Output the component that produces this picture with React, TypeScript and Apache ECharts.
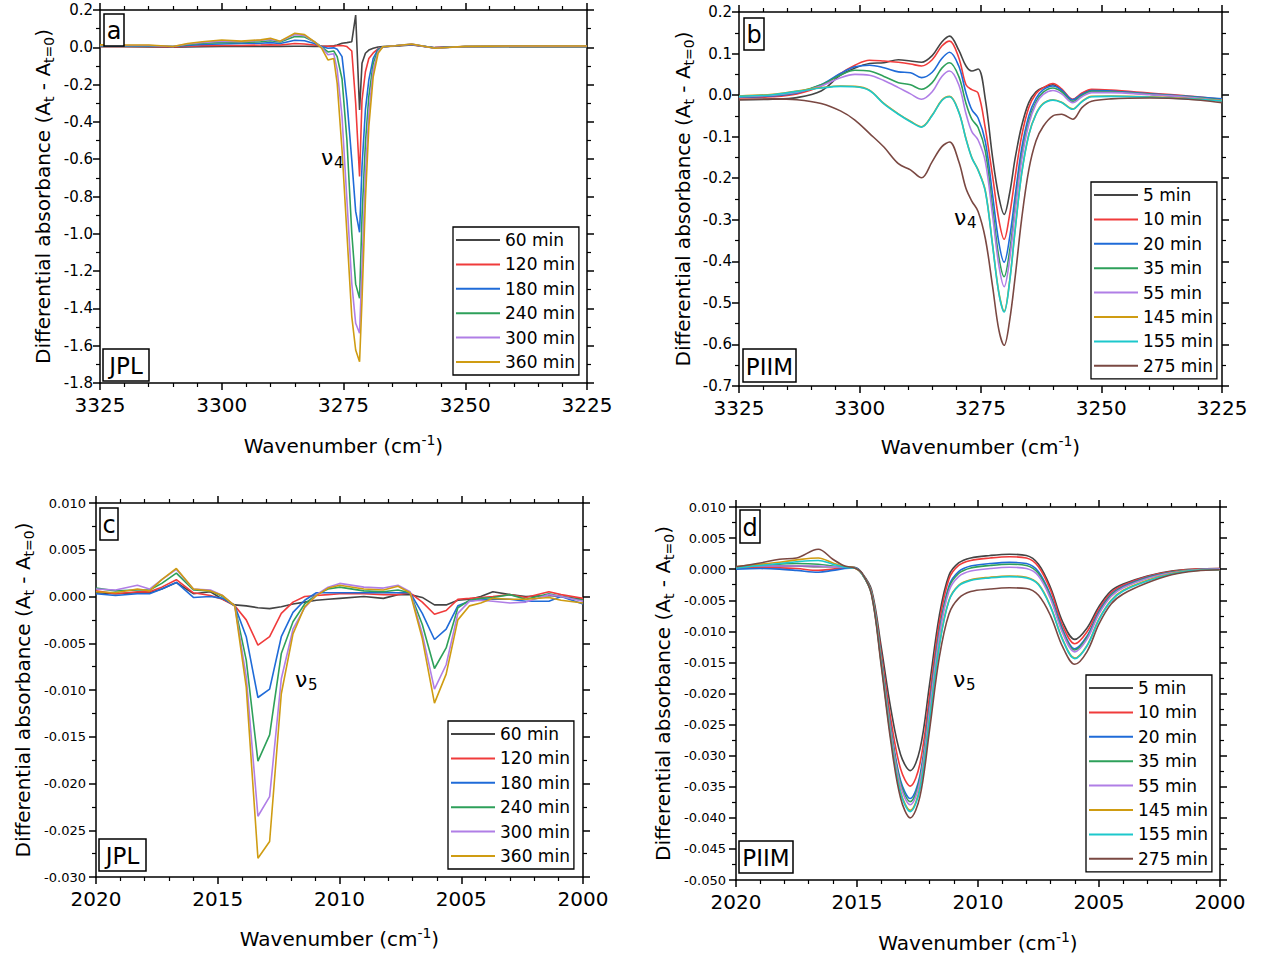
import React, { useEffect, useRef } from 'react';
import * as echarts from 'echarts';

// ---------------- Panel a (JPL, nu4) ----------------
const X_A = [3325, 3320, 3315, 3310, 3307, 3304, 3300, 3296, 3292, 3290, 3288, 3285, 3283, 3281, 3279.5, 3278.2, 3277, 3276.3, 3275.3, 3274.3, 3273.3, 3272.5, 3271.7, 3271.2, 3270.5, 3269.8, 3268.9, 3267.9, 3266.9, 3264.4, 3261, 3256.3, 3250, 3240, 3225];
const A_60 = [0.003, 0.003, 0.002, 0.000, 0.002, 0.003, 0.004, 0.004, 0.005, 0.006, 0.005, 0.006, 0.006, 0.005, 0.005, 0.006, 0.008, 0.012, 0.022, 0.025, 0.030, 0.173, -0.336, -0.086, -0.032, -0.015, -0.005, 0.002, 0.004, 0.006, 0.012, -0.002, 0.003, 0.004, 0.003];
const A_120 = [0.005, 0.004, 0.004, 0.002, 0.006, 0.008, 0.010, 0.010, 0.012, 0.014, 0.012, 0.020, 0.018, 0.012, 0.006, 0.006, 0.006, 0.008, 0.010, 0.004, -0.020, -0.300, -0.693, -0.283, -0.131, -0.060, -0.030, -0.008, 0.002, 0.008, 0.014, -0.002, 0.004, 0.005, 0.004];
const A_180 = [0.006, 0.006, 0.006, 0.004, 0.010, 0.015, 0.018, 0.020, 0.022, 0.025, 0.020, 0.038, 0.035, 0.020, 0.004, -0.005, -0.003, -0.010, -0.050, -0.283, -0.604, -0.880, -0.992, -0.640, -0.336, -0.175, -0.059, -0.010, 0.002, 0.008, 0.015, -0.003, 0.004, 0.004, 0.004];
const A_240 = [0.008, 0.008, 0.008, 0.004, 0.014, 0.022, 0.025, 0.026, 0.030, 0.035, 0.028, 0.058, 0.055, 0.030, 0.002, -0.025, -0.020, -0.050, -0.170, -0.497, -0.997, -1.270, -1.346, -0.908, -0.515, -0.264, -0.086, -0.015, 0.003, 0.008, 0.016, -0.004, 0.004, 0.005, 0.005];
const A_300 = [0.010, 0.010, 0.010, 0.004, 0.018, 0.026, 0.033, 0.030, 0.038, 0.042, 0.032, 0.068, 0.063, 0.030, 0.000, -0.040, -0.035, -0.120, -0.372, -0.819, -1.266, -1.480, -1.533, -1.176, -0.676, -0.354, -0.122, -0.023, 0.003, 0.008, 0.017, -0.005, 0.004, 0.006, 0.006];
const A_360 = [0.013, 0.012, 0.012, 0.004, 0.020, 0.030, 0.039, 0.033, 0.040, 0.048, 0.033, 0.075, 0.068, 0.030, -0.005, -0.068, -0.060, -0.193, -0.551, -0.997, -1.444, -1.623, -1.686, -1.355, -0.819, -0.426, -0.158, -0.032, 0.003, 0.008, 0.018, -0.005, 0.005, 0.007, 0.007];

// ---------------- Panel b (PIIM, nu4) ----------------
const X_B = [3325, 3318, 3313, 3308, 3304, 3301, 3298, 3295, 3292, 3289.5, 3287.2, 3285, 3283, 3281.4, 3279.5, 3278, 3276.8, 3275.5, 3274, 3272.5, 3271.2, 3270.1, 3269, 3267.8, 3266.5, 3265, 3263.5, 3262, 3260, 3258.2, 3255.9, 3254, 3252, 3248, 3240, 3232, 3225];
const B_5 = [-0.011, -0.010, -0.006, 0.010, 0.048, 0.065, 0.076, 0.078, 0.085, 0.082, 0.079, 0.095, 0.128, 0.142, 0.108, 0.070, 0.058, 0.063, -0.010, -0.150, -0.245, -0.287, -0.238, -0.150, -0.075, -0.018, 0.008, 0.018, 0.025, 0.012, -0.011, 0.003, 0.012, 0.010, 0.002, -0.005, -0.011];
const B_10 = [-0.007, -0.004, 0.003, 0.022, 0.052, 0.072, 0.084, 0.082, 0.079, 0.075, 0.070, 0.085, 0.118, 0.130, 0.090, 0.025, 0.013, 0.005, -0.080, -0.195, -0.300, -0.347, -0.290, -0.195, -0.100, -0.030, 0.004, 0.018, 0.028, 0.015, -0.010, 0.005, 0.014, 0.012, 0.005, -0.002, -0.010];
const B_20 = [-0.005, -0.002, 0.005, 0.025, 0.052, 0.068, 0.072, 0.066, 0.056, 0.054, 0.042, 0.055, 0.088, 0.103, 0.070, 0.005, -0.035, -0.055, -0.112, -0.240, -0.355, -0.402, -0.345, -0.240, -0.130, -0.050, -0.008, 0.013, 0.022, 0.012, -0.011, 0.002, 0.011, 0.010, 0.003, -0.003, -0.009];
const B_35 = [-0.004, 0.000, 0.007, 0.025, 0.048, 0.060, 0.058, 0.045, 0.030, 0.025, 0.014, 0.030, 0.065, 0.078, 0.045, -0.020, -0.058, -0.078, -0.135, -0.270, -0.390, -0.437, -0.378, -0.265, -0.148, -0.062, -0.016, 0.007, 0.017, 0.008, -0.015, -0.001, 0.009, 0.008, 0.002, -0.004, -0.012];
const B_55 = [-0.004, 0.000, 0.007, 0.022, 0.042, 0.050, 0.048, 0.035, 0.018, 0.003, -0.010, 0.008, 0.045, 0.058, 0.025, -0.045, -0.088, -0.108, -0.160, -0.290, -0.410, -0.461, -0.398, -0.278, -0.158, -0.070, -0.021, 0.002, 0.011, 0.003, -0.018, -0.004, 0.006, 0.006, 0.001, -0.005, -0.013];
const B_145 = [-0.002, 0.002, 0.010, 0.018, 0.022, 0.021, 0.012, -0.020, -0.045, -0.063, -0.076, -0.048, -0.012, -0.003, -0.040, -0.105, -0.150, -0.180, -0.230, -0.360, -0.475, -0.520, -0.450, -0.320, -0.190, -0.095, -0.045, -0.020, -0.011, -0.017, -0.033, -0.015, -0.003, -0.002, -0.004, -0.008, -0.013];
const B_155 = [-0.003, 0.001, 0.009, 0.017, 0.021, 0.020, 0.011, -0.021, -0.046, -0.064, -0.077, -0.049, -0.013, -0.004, -0.041, -0.106, -0.151, -0.181, -0.232, -0.362, -0.477, -0.522, -0.452, -0.322, -0.191, -0.096, -0.046, -0.021, -0.012, -0.018, -0.034, -0.016, -0.004, -0.003, -0.005, -0.009, -0.014];
const B_275 = [-0.011, -0.009, -0.011, -0.020, -0.038, -0.060, -0.092, -0.125, -0.165, -0.180, -0.199, -0.160, -0.124, -0.113, -0.160, -0.225, -0.255, -0.280, -0.345, -0.460, -0.565, -0.602, -0.545, -0.435, -0.300, -0.180, -0.110, -0.075, -0.050, -0.046, -0.058, -0.030, -0.015, -0.009, -0.007, -0.010, -0.018];

// ---------------- Panel c (JPL, nu5) ----------------
const X_C = [2020.0, 2019.2, 2018.3, 2017.8, 2017.3, 2016.7, 2016.0, 2015.3, 2014.8, 2014.3, 2013.83, 2013.35, 2012.87, 2012.39, 2011.91, 2011.43, 2010.95, 2010.47, 2009.99, 2009.0, 2008.2, 2007.6, 2007.1, 2006.6, 2006.1, 2005.62, 2005.14, 2004.66, 2004.2, 2003.7, 2003.0, 2002.35, 2001.4, 2000.9, 2000.0];
const C_60 = [0.0004, 0.0003, 0.0004, 0.0004, 0.0008, 0.0015, 0.0003, 0.0005, -0.0003, -0.0009, -0.0010, -0.0012, -0.0013, -0.0011, -0.0008, -0.0006, -0.0004, -0.0003, -0.0002, 0.0000, -0.0002, 0.0002, 0.0002, -0.0001, -0.0009, -0.0009, -0.0004, -0.0003, 0.0000, 0.0005, 0.0002, 0.0000, 0.0001, 0.0000, -0.0003];
const C_120 = [0.0006, 0.0003, 0.0005, 0.0005, 0.0010, 0.0018, 0.0004, 0.0001, -0.0003, -0.0010, -0.0025, -0.0052, -0.0043, -0.0018, -0.0006, 0.0000, 0.0001, 0.0002, 0.0003, 0.0003, 0.0002, 0.0002, 0.0004, -0.0006, -0.0019, -0.0015, -0.0003, -0.0002, -0.0001, 0.0000, 0.0002, -0.0001, 0.0005, 0.0002, -0.0002];
const C_180 = [0.0003, 0.0001, 0.0003, 0.0003, 0.0008, 0.0015, -0.0001, 0.0000, -0.0002, -0.0010, -0.0043, -0.0108, -0.0099, -0.0043, -0.0017, -0.0004, 0.0004, 0.0004, 0.0004, 0.0004, 0.0004, 0.0004, 0.0004, -0.0018, -0.0046, -0.0035, -0.0010, -0.0005, -0.0003, -0.0003, -0.0003, -0.0005, -0.0005, 0.0000, -0.0008];
const C_240 = [0.0009, 0.0006, 0.0007, 0.0007, 0.0014, 0.0025, 0.0007, 0.0006, 0.0000, -0.0010, -0.0068, -0.0176, -0.0148, -0.0061, -0.0027, -0.0008, 0.0002, 0.0008, 0.0010, 0.0006, 0.0005, 0.0007, 0.0004, -0.0030, -0.0077, -0.0055, -0.0012, -0.0004, -0.0002, -0.0001, 0.0002, -0.0003, 0.0003, 0.0000, -0.0004];
const C_300 = [0.0008, 0.0007, 0.0012, 0.0008, 0.0018, 0.0029, 0.0008, 0.0007, 0.0001, -0.0010, -0.0086, -0.0235, -0.0214, -0.0088, -0.0035, -0.0012, 0.0002, 0.0010, 0.0014, 0.0010, 0.0009, 0.0012, 0.0005, -0.0040, -0.0099, -0.0073, -0.0018, -0.0005, -0.0004, -0.0005, -0.0007, -0.0006, 0.0002, 0.0000, -0.0005];
const C_360 = [0.0005, 0.0004, 0.0008, 0.0006, 0.0018, 0.0030, 0.0008, 0.0006, 0.0001, -0.0010, -0.0097, -0.0280, -0.0262, -0.0104, -0.0040, -0.0011, 0.0001, 0.0009, 0.0012, 0.0008, 0.0007, 0.0011, 0.0004, -0.0045, -0.0114, -0.0083, -0.0025, -0.0010, -0.0007, -0.0002, -0.0003, -0.0003, -0.0001, -0.0004, -0.0007];

// ---------------- Panel d (PIIM, nu5) ----------------
const X_D = [2020, 2019, 2018.2, 2017.5, 2016.6, 2016, 2015.5, 2015.1, 2014.8, 2014.4, 2014, 2013.6, 2013.2, 2012.8, 2012.4, 2012, 2011.6, 2011.2, 2010.8, 2010.3, 2009.5, 2008.7, 2008, 2007.5, 2007, 2006.5, 2006, 2005.5, 2005, 2004.5, 2004, 2003, 2002, 2001, 2000];
const D_5 = [0.0004, 0.0005, 0.0005, 0.0005, 0.0004, 0.0004, 0.0004, 0.0003, -0.0006, -0.0033, -0.0125, -0.0225, -0.0298, -0.0324, -0.0290, -0.0185, -0.0075, -0.0010, 0.0010, 0.0018, 0.0022, 0.0024, 0.0022, 0.0008, -0.0030, -0.0085, -0.0113, -0.0095, -0.0060, -0.0035, -0.0024, -0.0011, -0.0003, 0.0000, 0.0001];
const D_10 = [0.0002, 0.0002, 0.0002, 0.0001, -0.0002, 0.0000, 0.0002, 0.0002, -0.0007, -0.0036, -0.0135, -0.0242, -0.0321, -0.0349, -0.0313, -0.0203, -0.0087, -0.0016, 0.0006, 0.0014, 0.0018, 0.0020, 0.0018, 0.0004, -0.0034, -0.0091, -0.0120, -0.0101, -0.0064, -0.0038, -0.0026, -0.0012, -0.0004, 0.0000, 0.0001];
const D_20 = [0.0000, 0.0001, 0.0000, -0.0002, -0.0005, -0.0002, 0.0001, 0.0002, -0.0007, -0.0038, -0.0143, -0.0256, -0.0340, -0.0369, -0.0332, -0.0218, -0.0100, -0.0027, -0.0004, 0.0005, 0.0009, 0.0011, 0.0009, -0.0004, -0.0042, -0.0097, -0.0128, -0.0108, -0.0068, -0.0041, -0.0028, -0.0013, -0.0005, -0.0001, 0.0000];
const D_35 = [0.0003, 0.0006, 0.0008, 0.0009, 0.0008, 0.0005, 0.0003, 0.0002, -0.0007, -0.0038, -0.0145, -0.0260, -0.0344, -0.0374, -0.0337, -0.0222, -0.0103, -0.0030, -0.0007, 0.0002, 0.0006, 0.0008, 0.0006, -0.0007, -0.0045, -0.0100, -0.0130, -0.0110, -0.0070, -0.0042, -0.0029, -0.0014, -0.0005, -0.0001, 0.0000];
const D_55 = [0.0004, 0.0005, 0.0005, 0.0005, 0.0005, 0.0004, 0.0003, 0.0002, -0.0007, -0.0039, -0.0147, -0.0263, -0.0349, -0.0379, -0.0342, -0.0227, -0.0108, -0.0035, -0.0012, -0.0003, 0.0001, 0.0003, 0.0001, -0.0011, -0.0048, -0.0103, -0.0133, -0.0113, -0.0072, -0.0044, -0.0030, -0.0015, -0.0006, -0.0001, 0.0000];
const D_145 = [0.0004, 0.0008, 0.0011, 0.0015, 0.0018, 0.0010, 0.0004, 0.0002, -0.0007, -0.0040, -0.0150, -0.0270, -0.0358, -0.0388, -0.0352, -0.0240, -0.0122, -0.0050, -0.0026, -0.0017, -0.0013, -0.0011, -0.0013, -0.0024, -0.0060, -0.0113, -0.0143, -0.0123, -0.0080, -0.0050, -0.0034, -0.0018, -0.0007, -0.0002, -0.0001];
const D_155 = [0.0002, 0.0006, 0.0009, 0.0012, 0.0014, 0.0008, 0.0003, 0.0002, -0.0007, -0.0040, -0.0151, -0.0272, -0.0360, -0.0390, -0.0354, -0.0242, -0.0124, -0.0051, -0.0027, -0.0018, -0.0014, -0.0012, -0.0014, -0.0025, -0.0061, -0.0114, -0.0144, -0.0124, -0.0081, -0.0051, -0.0035, -0.0019, -0.0008, -0.0002, -0.0001];
const D_275 = [0.0004, 0.0010, 0.0016, 0.0018, 0.0032, 0.0016, 0.0005, 0.0002, -0.0006, -0.0041, -0.0155, -0.0278, -0.0368, -0.0400, -0.0366, -0.0258, -0.0142, -0.0072, -0.0047, -0.0036, -0.0032, -0.0030, -0.0031, -0.0042, -0.0075, -0.0125, -0.0153, -0.0133, -0.0088, -0.0056, -0.0040, -0.0022, -0.0009, -0.0003, -0.0001];

const NAMES_JPL = ['60 min', '120 min', '180 min', '240 min', '300 min', '360 min'];
const NAMES_PIIM = ['5 min', '10 min', '20 min', '35 min', '55 min', '145 min', '155 min', '275 min'];

const COLORS = ['#444444', '#f03b3b', '#1f6bd8', '#2ea05a', '#b07ee6', '#cf9c12', '#1cc8cc', '#7a4842'];
const FONT = '"DejaVu Sans", sans-serif';

const GRIDS = [
  { left: 100, top: 10, width: 487, height: 373 },
  { left: 739, top: 12, width: 483, height: 374 },
  { left: 96, top: 503, width: 487, height: 374 },
  { left: 736, top: 507, width: 484, height: 373 },
];

function mkSeries(xs: number[], ys: number[], name: string, color: string, gi: number, smooth: number | boolean) {
  return {
    type: 'line', name, xAxisIndex: gi, yAxisIndex: gi,
    data: xs.map((x, i) => [x, ys[i]]),
    symbol: 'none', showSymbol: false, smooth,
    lineStyle: { color, width: 1.6 }, itemStyle: { color },
    emphasis: { disabled: true }, animation: false, clip: true,
  };
}

const blackLine = { color: '#000', width: 1.5 };

function xAxes(gi: number, min: number, max: number, interval: number, gap: number) {
  const common = {
    type: 'value', gridIndex: gi, min, max, interval, inverse: true,
    axisLine: { show: true, onZero: false, lineStyle: blackLine },
    axisTick: { show: true, inside: false, length: 7, lineStyle: blackLine },
    minorTick: { show: true, splitNumber: 5, length: 4, lineStyle: { color: '#000', width: 1.2 } },
    splitLine: { show: false }, minorSplitLine: { show: false },
  };
  return [
    {
      ...common, position: 'bottom',
      axisLabel: { show: true, fontFamily: FONT, fontSize: 20, color: '#000', margin: 12, showMinLabel: true, showMaxLabel: true, formatter: (v: number) => String(v) },
      name: '{n|Wavenumber (cm}{s|-1}{n|)}', nameLocation: 'middle', nameGap: gap,
      nameTextStyle: {
        fontFamily: FONT, fontSize: 20, color: '#000',
        rich: {
          n: { fontFamily: FONT, fontSize: 20, color: '#000', lineHeight: 26 },
          s: { fontFamily: FONT, fontSize: 14, color: '#000', lineHeight: 14, verticalAlign: 'top', padding: [0, 0, 10, 0] },
        },
      },
    },
    { ...common, position: 'top', axisLabel: { show: false } },
  ];
}

function yAxes(gi: number, min: number, max: number, interval: number, digits: number, fs: number, margin: number, gap: number) {
  const common = {
    type: 'value', gridIndex: gi, min, max, interval,
    axisLine: { show: true, onZero: false, lineStyle: blackLine },
    axisTick: { show: true, inside: false, length: 7, lineStyle: blackLine },
    minorTick: { show: true, splitNumber: 2, length: 4, lineStyle: { color: '#000', width: 1.2 } },
    splitLine: { show: false }, minorSplitLine: { show: false },
  };
  return [
    {
      ...common, position: 'left',
      axisLabel: { show: true, fontFamily: FONT, fontSize: fs, color: '#000', margin, showMinLabel: true, showMaxLabel: true, formatter: (v: number) => v.toFixed(digits) },
      name: '{n|Differential absorbance (A}{s|t}{n| - A}{s|t=0}{n|)}', nameLocation: 'middle', nameGap: gap,
      nameTextStyle: {
        fontFamily: FONT, fontSize: 20, color: '#000',
        rich: {
          n: { fontFamily: FONT, fontSize: 20, color: '#000', lineHeight: 26 },
          s: { fontFamily: FONT, fontSize: 14, color: '#000', lineHeight: 14, verticalAlign: 'bottom', padding: [10, 0, 0, 0] },
        },
      },
    },
    { ...common, position: 'right', axisLabel: { show: false } },
  ];
}

function legend(names: string[], left: number, top: number) {
  return {
    show: true, orient: 'vertical', left, top,
    data: names.map((n) => ({ name: n, icon: 'rect' })),
    itemWidth: 44, itemHeight: 2, itemGap: 4.4,
    textStyle: { fontFamily: FONT, fontSize: 17, color: '#000', lineHeight: 20 },
    borderColor: '#000', borderWidth: 1.3, backgroundColor: '#fff',
    padding: [3, 4, 3, 3], selectedMode: false,
  };
}

function boxLabel(text: string, x: number, y: number, w: number, h: number, fs: number) {
  return [
    { type: 'rect', shape: { x, y, width: w, height: h }, style: { fill: '#fff', stroke: '#000', lineWidth: 1.5 }, z: 100 },
    { type: 'text', x: x + w / 2, y: y + h / 2 + 1, style: { text, fill: '#000', font: `${fs}px ${FONT}`, align: 'center', verticalAlign: 'middle' }, z: 101 },
  ];
}

function nuLabel(sub: string, x: number, y: number) {
  return [
    { type: 'text', x, y, style: { text: 'ν', fill: '#000', font: `22px ${FONT}`, align: 'left', verticalAlign: 'middle' }, z: 101 },
    { type: 'text', x: x + 13, y: y + 6, style: { text: sub, fill: '#000', font: `15px ${FONT}`, align: 'left', verticalAlign: 'middle' }, z: 101 },
  ];
}

export default function App() {
  const ref = useRef<HTMLDivElement>(null);
  useEffect(() => {
    if (!ref.current) return;
    const chart = echarts.init(ref.current, undefined, { renderer: 'svg' });
    const aSeries = [A_60, A_120, A_180, A_240, A_300, A_360].map((ys, i) => mkSeries(X_A, ys, NAMES_JPL[i], COLORS[i], 0, false));
    const bSeries = [B_5, B_10, B_20, B_35, B_55, B_145, B_155, B_275].map((ys, i) => mkSeries(X_B, ys, NAMES_PIIM[i], COLORS[i], 1, 0.35));
    const cSeries = [C_60, C_120, C_180, C_240, C_300, C_360].map((ys, i) => mkSeries(X_C, ys, NAMES_JPL[i], COLORS[i], 2, false));
    const dSeries = [D_5, D_10, D_20, D_35, D_55, D_145, D_155, D_275].map((ys, i) => mkSeries(X_D, ys, NAMES_PIIM[i], COLORS[i], 3, 0.35));

    const xa = [xAxes(0, 3225, 3325, 25, 50), xAxes(1, 3225, 3325, 25, 48), xAxes(2, 2000, 2020, 5, 49), xAxes(3, 2000, 2020, 5, 50)];
    const ya = [
      yAxes(0, -1.8, 0.2, 0.2, 1, 15, 7, 44),
      yAxes(1, -0.7, 0.2, 0.1, 1, 15, 7, 43),
      yAxes(2, -0.03, 0.01, 0.005, 3, 13, 10, 60),
      yAxes(3, -0.05, 0.01, 0.005, 3, 13, 10, 60),
    ];

    const option: any = {
      animation: false,
      backgroundColor: '#fff',
      grid: GRIDS.map((g) => ({ ...g, containLabel: false, outerBoundsMode: 'none' })),
      xAxis: [...xa.map((p) => p[0]), ...xa.map((p) => p[1])].map((ax: any, i) => ({ ...ax, gridIndex: i % 4 })),
      yAxis: [...ya.map((p) => p[0]), ...ya.map((p) => p[1])].map((ax: any, i) => ({ ...ax, gridIndex: i % 4 })),
      legend: [
        legend(NAMES_JPL, 453, 227),
        legend(NAMES_PIIM, 1091, 182),
        legend(NAMES_JPL, 448, 721),
        legend(NAMES_PIIM, 1086, 675),
      ],
      series: [...aSeries, ...bSeries, ...cSeries, ...dSeries],
      graphic: [
        ...boxLabel('a', 104, 14, 20, 32, 24),
        ...boxLabel('JPL', 103, 349, 46, 32, 23),
        ...boxLabel('b', 744, 18, 20, 32, 24),
        ...boxLabel('PIIM', 743, 349, 53, 33, 23),
        ...boxLabel('c', 100, 508, 18, 32, 24),
        ...boxLabel('JPL', 99, 839, 47, 32, 23),
        ...boxLabel('d', 740, 510, 20, 33, 24),
        ...boxLabel('PIIM', 739, 841, 54, 32, 23),
        ...nuLabel('4', 321, 157),
        ...nuLabel('4', 954, 217),
        ...nuLabel('5', 295, 679),
        ...nuLabel('5', 953, 679),
      ],
    };
    chart.setOption(option);
    return () => chart.dispose();
  }, []);
  return <div ref={ref} style={{ position: 'absolute', left: 0, top: 0, width: 1264, height: 958, background: '#fff' }} />;
}
